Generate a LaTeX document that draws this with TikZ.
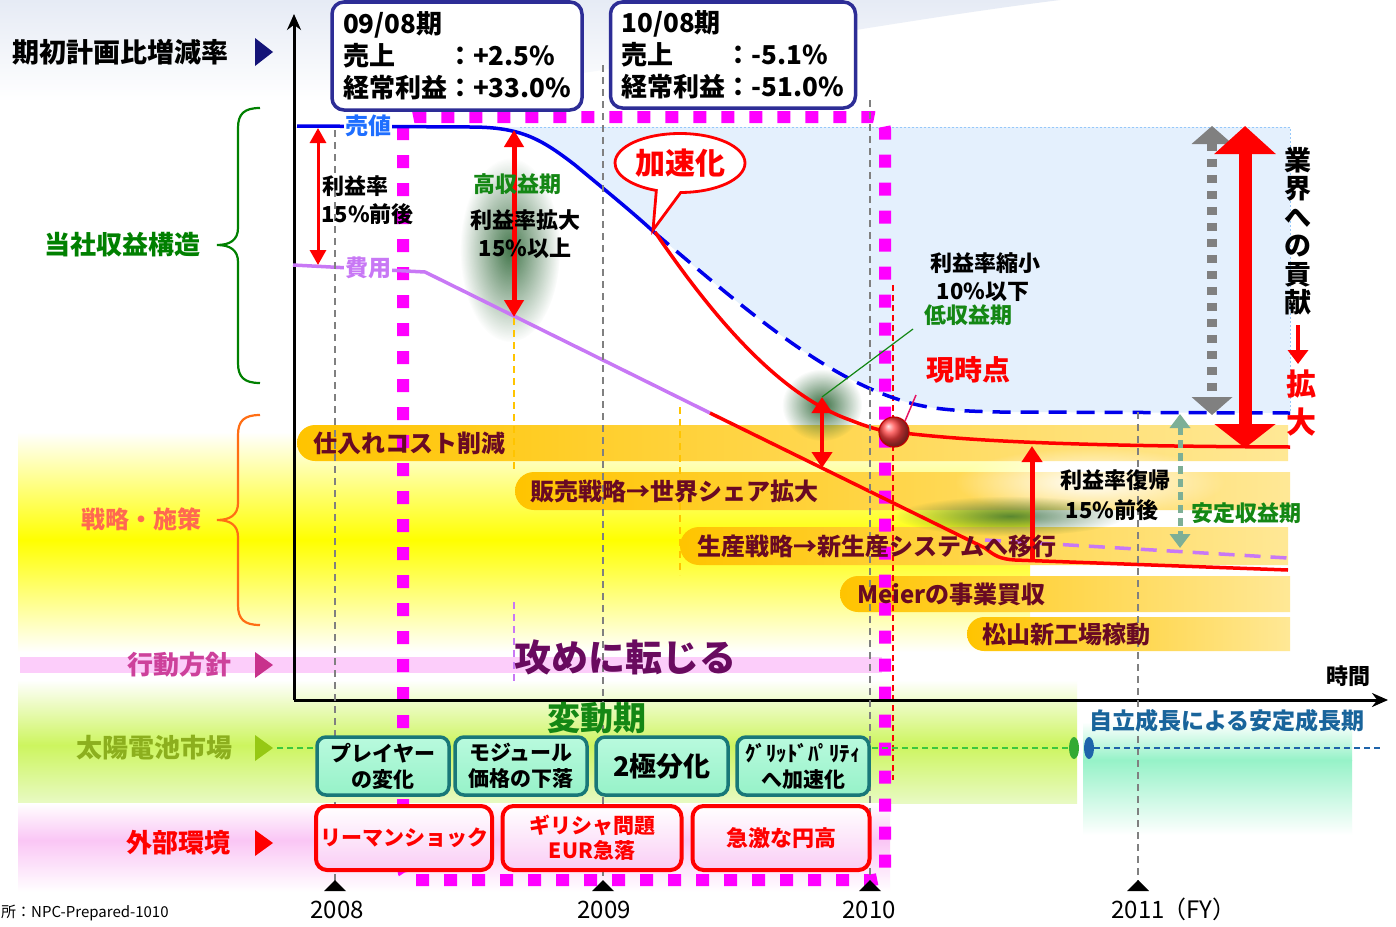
\documentclass[tikz,border=0pt]{standalone}
\usepackage{fontspec}
\setmainfont{Noto Sans CJK JP}
\usetikzlibrary{arrows.meta,shapes.geometric,shapes.callouts,fadings}
\definecolor{navy}{RGB}{45,45,150}
\definecolor{navytri}{RGB}{20,20,120}
\definecolor{mag}{RGB}{255,0,255}
\definecolor{salesblue}{RGB}{0,0,235}
\definecolor{labblue}{RGB}{30,110,255}
\definecolor{costpurple}{RGB}{200,120,245}
\definecolor{dgreen}{RGB}{20,135,20}
\definecolor{bracegreen}{RGB}{0,128,0}
\definecolor{braceorange}{RGB}{255,110,20}
\definecolor{bargold}{RGB}{255,196,0}
\definecolor{barlight}{RGB}{255,232,150}
\definecolor{maroon}{RGB}{105,10,35}
\definecolor{tealb}{RGB}{25,120,120}
\definecolor{mintA}{RGB}{185,250,222}
\definecolor{mintB}{RGB}{150,242,200}
\definecolor{pinkbg}{RGB}{250,198,245}
\definecolor{pinkbox}{RGB}{250,205,245}
\definecolor{pinkband}{RGB}{252,205,250}
\definecolor{yg}{RGB}{205,245,95}
\definecolor{yglight}{RGB}{232,250,195}
\definecolor{shadowg}{RGB}{35,95,45}
\definecolor{dotfill}{RGB}{228,240,253}
\definecolor{dotline}{RGB}{150,200,250}
\definecolor{swoosh}{RGB}{230,235,245}
\definecolor{purpleT}{RGB}{105,10,95}
\definecolor{mkt}{RGB}{140,175,30}
\definecolor{mkttri}{RGB}{150,200,20}
\definecolor{act}{RGB}{205,65,155}
\definecolor{acttri}{RGB}{200,50,140}
\definecolor{strat}{RGB}{255,105,80}
\definecolor{selfblue}{RGB}{25,100,155}
\definecolor{grayA}{RGB}{128,128,128}
\definecolor{gdot}{RGB}{125,175,150}
\definecolor{greendash}{RGB}{60,200,60}
\definecolor{bluedash}{RGB}{30,100,170}
\definecolor{pinkline}{RGB}{230,20,100}
\newcommand{\fsz}[1]{\fontsize{#1}{#1}\selectfont\bfseries}
\newcommand{\fszl}[2]{\fontsize{#1}{#2}\selectfont\bfseries}
\newcommand{\stratbar}[4]{\shade[left color=bargold, right color=barlight] (#2,#3) -- ({#1+#4},#3) arc (270:90:#4) -- (#2,{#3+2*#4}) -- cycle;}
\tikzfading[name=softblob, inner color=transparent!0, outer color=transparent!100]
\tikzset{
  gdashed/.style={draw=grayA, dash pattern=on 7pt off 5pt, line width=1.4},
  odashed/.style={draw=bargold, dash pattern=on 7pt off 5pt, line width=1.4},
  magdash/.style={draw=mag, line width=12, dash pattern=on 13pt off 15pt},
  bartxt/.style={font=\fsz{24}, text=maroon, anchor=west},
  mktbox/.style={draw=tealb, line width=3.5, rounded corners=9, top color=mintA, bottom color=mintB, font=\fszl{21}{26}, align=center, minimum width=132, minimum height=58},
  extbox/.style={draw=red, line width=4, rounded corners=11, top color=white, bottom color=pinkbox, text=red, font=\fszl{21}{25}, align=center, minimum height=64},
  infobox/.style={draw=navy, line width=3.5, rounded corners=12, fill=white, font=\fszl{26}{32}, align=left},
  blob/.style={fill=shadowg, path fading=softblob},
  glow/.style={fill=white, path fading=softblob},
}
\begin{document}
\begin{tikzpicture}[x=1pt,y=-1pt, every node/.style={inner sep=0pt}]
\useasboundingbox (0,0) rectangle (1396,926);
\fill[white] (0,0) rectangle (1396,926);
% top swoosh
\shade[top color=swoosh, bottom color=white] (0,0) -- (1060,0) .. controls (820,30) and (520,95) .. (290,102) -- (0,102) -- cycle;
% background bands
\shade[top color=white, bottom color=yellow] (18,432) rectangle (1030,540);
\shade[top color=yellow, bottom color=white] (18,540) rectangle (1030,652);
\shade[top color=white, bottom color=yg] (18,680) rectangle (1077,745);
\shade[top color=yg, bottom color=yglight] (18,745) rectangle (1077,803);
\shade[top color=white, bottom color=pinkbg] (18,803) rectangle (890,840);
\shade[top color=pinkbg, bottom color=white] (18,840) rectangle (890,892);
\shade[top color=white, bottom color=mintB] (1083,722) rectangle (1352,760);
\shade[top color=mintB, bottom color=white] (1083,760) rectangle (1352,835);
\fill[pinkband] (20,657) rectangle (882,673);
% dotted region
\fill[dotfill] (470,127) .. controls (520,127) and (540,138) .. (575,165) .. controls (605,190) and (630,210) .. (655,233) .. controls (740,305) and (820,375) .. (900,400) .. controls (930,410) and (960,411) .. (1000,412) -- (1290,413) -- (1290,127) -- cycle;
\draw[dotline, dash pattern=on 2pt off 2pt, line width=1] (520,127) -- (1290,127) -- (1290,413);
% strategy bars
\stratbar{297}{1288}{425}{18}
\stratbar{515}{1290}{472}{19}
\stratbar{680}{1288}{527}{19}
\stratbar{840}{1290}{576}{18}
\stratbar{967}{1290}{617}{17}
% glows and shadows
\fill[glow] (1090,482) ellipse [x radius=135, y radius=34];
\fill[blob, opacity=0.85] (510,250) ellipse [x radius=50, y radius=92];
\fill[blob, opacity=0.9] (822,405) ellipse [x radius=40, y radius=36];
\fill[blob, opacity=0.75] (1010,516) ellipse [x radius=115, y radius=20];
% magenta period frame
\draw[magdash, rounded corners=12] (403,880) -- (403,117) -- (885,117) -- (885,880) -- cycle;
\draw[red, dash pattern=on 6pt off 4pt, line width=1.3] (893,285) -- (893,780);
% axes
\coordinate (O) at (294,700);
\coordinate (ytop) at (294,14);
\coordinate (xend) at (1388,700);
\draw[line width=3, -{Stealth[length=16pt,width=14pt]}] (O) -- (ytop);
\draw[line width=3, -{Stealth[length=16pt,width=14pt]}] (O) -- (xend);
% sales line
\draw[salesblue, line width=3.5] (297,126) -- (470,127) .. controls (520,127) and (540,138) .. (575,165) .. controls (605,190) and (630,210) .. (655,233);
\draw[salesblue, line width=3.5, dash pattern=on 18pt off 10pt] (655,233) .. controls (740,305) and (820,375) .. (900,400) .. controls (930,410) and (960,411) .. (1000,412) -- (1290,413);
\draw[red, line width=3.5] (655,232) .. controls (715,320) and (780,395) .. (850,420) .. controls (870,428) and (885,432) .. (895,432) .. controls (960,440) and (1050,446) .. (1290,447);
% cost line
\draw[costpurple, line width=3.5] (293,265) -- (425,272) -- (710,413);
\draw[red, line width=3.5] (710,413) -- (985,548) .. controls (995,556) and (1000,559) .. (1015,560) -- (1288,570);
\draw[costpurple, line width=3.5, dash pattern=on 16pt off 10pt] (985,540) -- (1288,558);
% dashed verticals
\draw[odashed] (514,318) -- (514,472);
\draw[odashed] (680,407) -- (680,575);
\draw[draw=costpurple, dash pattern=on 7pt off 5pt, line width=1.4] (514,602) -- (514,685);
% arrows
\coordinate (a1t) at (318,128); \coordinate (a1b) at (318,265);
\coordinate (a2t) at (514,130); \coordinate (a2b) at (514,317);
\coordinate (a3t) at (822,397); \coordinate (a3b) at (822,468);
\coordinate (a4t) at (1032,446); \coordinate (a4b) at (1032,561);
\coordinate (a5t) at (1245,126); \coordinate (a5b) at (1245,448);
\coordinate (a6t) at (1212,126); \coordinate (a6b) at (1212,415);
\coordinate (a7t) at (1180,414); \coordinate (a7b) at (1180,548);
\draw[red, line width=3, {Triangle[length=15pt,width=16pt]}-{Triangle[length=15pt,width=16pt]}] (a1t) -- (a1b);
\draw[red, line width=5, {Triangle[length=17pt,width=19pt]}-{Triangle[length=17pt,width=19pt]}] (a2t) -- (a2b);
\draw[red, line width=4, {Triangle[length=16pt,width=20pt]}-{Triangle[length=16pt,width=20pt]}] (a3t) -- (a3b);
\draw[red, line width=5, -{Triangle[length=16pt,width=20pt]}] (a4b) -- (a4t);
\draw[grayA, line width=10, dash pattern=on 8pt off 8pt, {Triangle[length=18pt,width=40pt]}-{Triangle[length=18pt,width=40pt]}] (a6t) -- (a6b);
\draw[red, line width=13, {Triangle[length=28pt,width=60pt]}-{Triangle[length=24pt,width=60pt]}] (a5t) -- (a5b);
\draw[gdot, line width=5, dash pattern=on 8pt off 5pt, {Triangle[length=14pt,width=20pt]}-{Triangle[length=14pt,width=20pt]}] (a7t) -- (a7b);
% gray dashed verticals
\draw[gdashed] (335,130) -- (335,882);
\draw[gdashed] (603,65) -- (603,882);
\draw[gdashed] (870,100) -- (870,882);
\draw[gdashed] (1138,412) -- (1138,882);
% info boxes
\node[infobox, minimum width=250, minimum height=108, text width=228] (box1) at (457,56) {09/08期\\\makebox[4em][l]{売上}：+2.5\%\\経常利益：+33.0\%};
\node[infobox, minimum width=245, minimum height=106, text width=223] (box2) at (733,55) {10/08期\\\makebox[4em][l]{売上}：-5.1\%\\経常利益：-51.0\%};
% left labels
\node[font=\fsz{27}, anchor=east] (lab1) at (229,52) {期初計画比増減率};
\fill[navytri] (255,38) -- (273,52) -- (255,66) -- cycle;
\node[font=\fsz{26}, text=bracegreen, anchor=east] (lab2) at (201,245) {当社収益構造};
\node[font=\fsz{24}, text=strat, anchor=east] (lab3) at (202,519) {戦略・施策};
\node[font=\fsz{26}, text=act, anchor=east] (lab4) at (232,665) {行動方針};
\fill[acttri] (255,652) -- (273,665) -- (255,678) -- cycle;
\node[font=\fsz{26}, text=mkt, anchor=east] (lab5) at (233,748) {太陽電池市場};
\fill[mkttri] (255,735) -- (273,748) -- (255,761) -- cycle;
\node[font=\fsz{26}, text=red, anchor=east] (lab6) at (231,843) {外部環境};
\fill[red] (255,830) -- (273,843) -- (255,856) -- cycle;
% braces
\draw[bracegreen, line width=2.2] (260,108) .. controls (244,108) and (238,114) .. (238,128) -- (238,228) .. controls (238,240) and (230,245) .. (217,245) .. controls (230,245) and (238,250) .. (238,262) -- (238,363) .. controls (238,377) and (244,383) .. (260,383);
\draw[braceorange, line width=2.2] (260,415) .. controls (244,415) and (238,421) .. (238,435) -- (238,503) .. controls (238,515) and (230,520) .. (217,520) .. controls (230,520) and (238,525) .. (238,537) -- (238,605) .. controls (238,619) and (244,625) .. (260,625);
% chart labels
\node[font=\fsz{23}, text=labblue, fill=white, inner sep=1pt] (uriLab) at (368,126) {売値};
\node[font=\fsz{23}, text=costpurple, fill=white, inner sep=1pt] (hiyoLab) at (368,268) {費用};
\node[font=\fsz{22}, anchor=west] (r1) at (322,186) {利益率};
\node[font=\fsz{22}, anchor=west] (r2) at (321,214) {15\%前後};
\node[font=\fsz{22}, text=dgreen] (koshu) at (517,184) {高収益期};
\node[font=\fsz{22}] (kakudai) at (525,220) {利益率拡大};
\node[font=\fsz{22}] (ijo) at (525,248) {15\%以上};
\node[ellipse callout, draw=red, line width=2.8, fill=white, minimum width=130, minimum height=59, callout absolute pointer={(653,230)}, callout pointer arc=22, font=\fsz{30}, text=red] (acc) at (680,163) {加速化};
\node[font=\fsz{22}] (shuku) at (985,263) {利益率縮小};
\node[font=\fsz{22}] (ika) at (983,292) {10\%以下};
\node[font=\fsz{22}, text=dgreen] (teishu) at (968,315) {低収益期};
\draw[dgreen, line width=1.2] (a3t) -- (913,329);
\node[font=\fsz{28}, text=red] (genji) at (968,370) {現時点};
\node[circle, ball color=red!75!white, draw=red!75!black, line width=1.2, minimum size=30] (now) at (894,432) {};
\draw[pinkline, line width=1.5] (now.north east) -- (916,395);
\node[font=\fsz{22}] (fukki) at (1115,480) {利益率復帰};
\node[font=\fsz{22}] (zengo) at (1112,510) {15\%前後};
\node[font=\fsz{22}, text=dgreen] (antei) at (1246,513) {安定収益期};
\node[font=\fszl{27}{28.5}, align=center] (gyokai) at (1298,231) {業\\界\\へ\\の\\貢\\献};
\coordinate (kt) at (1298,325); \coordinate (kb) at (1298,364);
\draw[red, line width=3.5, -{Triangle[length=14pt,width=20pt]}] (kt) -- (kb);
\node[font=\fszl{30}{38}, text=red, align=center] (kakudai2) at (1301,403) {拡\\大};
% bar texts
\node[bartxt] (b1) at (313,443) {仕入れコスト削減};
\node[bartxt] (b2) at (530,491) {販売戦略→世界シェア拡大};
\node[bartxt] (b3) at (697,546) {生産戦略→新生産システムへ移行};
\node[bartxt] (b4) at (857,594) {Meierの事業買収};
\node[bartxt] (b5) at (982,634) {松山新工場稼動};
% big texts
\node[font=\fsz{37}, text=purpleT] (seme) at (625,657) {攻めに転じる};
\node[font=\fsz{33}, text=dgreen] (hendo) at (597,718) {変動期};
\node[font=\fsz{23}, text=selfblue] (jiritsu) at (1227,721) {自立成長による安定成長期};
\node[font=\fsz{22}] (jikan) at (1348,676) {時間};
% market row
\coordinate (gd1) at (277,748); \coordinate (gd2) at (316,748);
\coordinate (gd3) at (872,748);
\draw[greendash, dash pattern=on 6pt off 4pt, line width=1.5] (gd1) -- (gd2);
\node[mktbox] (m1) at (383,766) {プレイヤー\\の変化};
\node[mktbox] (m2) at (521,766) {モジュール\\価格の下落};
\node[mktbox, font=\fsz{27}] (m3) at (662,766) {2極分化};
\node[mktbox] (m4) at (803,766) {ｸﾞﾘｯﾄﾞﾊﾟﾘﾃｨ\\へ加速化};
\node[ellipse, fill=greendash!85!black, minimum width=10, minimum height=22] (gdot) at (1074,748) {};
\node[ellipse, fill=bluedash, minimum width=10, minimum height=22] (bdot) at (1089,748) {};
\draw[greendash, dash pattern=on 6pt off 4pt, line width=1.5] (gd3) -- (gdot.west);
\coordinate (bend) at (1380,748);
\draw[bluedash, dash pattern=on 6pt off 4pt, line width=1.5] (bdot.east) -- (bend);
% external row
\node[extbox, minimum width=176] (e1) at (404,838) {リーマンショック};
\node[extbox, minimum width=179] (e2) at (592,838) {ギリシャ問題\\EUR急落};
\node[extbox, minimum width=177, font=\fsz{22}] (e3) at (781,838) {急激な円高};
% ticks
\fill (324,891) -- (335,880) -- (346,891) -- cycle;
\fill (592,891) -- (603,880) -- (614,891) -- cycle;
\fill (859,891) -- (870,880) -- (881,891) -- cycle;
\fill (1127,891) -- (1138,880) -- (1149,891) -- cycle;
\node[font=\fontsize{24}{24}\selectfont] (y8) at (337,910) {2008};
\node[font=\fontsize{24}{24}\selectfont] (y9) at (604,910) {2009};
\node[font=\fontsize{24}{24}\selectfont] (y10) at (869,910) {2010};
\node[font=\fontsize{24}{24}\selectfont] (y11) at (1138,910) {2011};
\node[font=\fontsize{24}{24}\selectfont, anchor=west] (fy) at (1162,909) {（FY）};
\node[font=\fontsize{15}{15}\selectfont, anchor=west] (src) at (1,913) {所：NPC-Prepared-1010};
\end{tikzpicture}
\end{document}
